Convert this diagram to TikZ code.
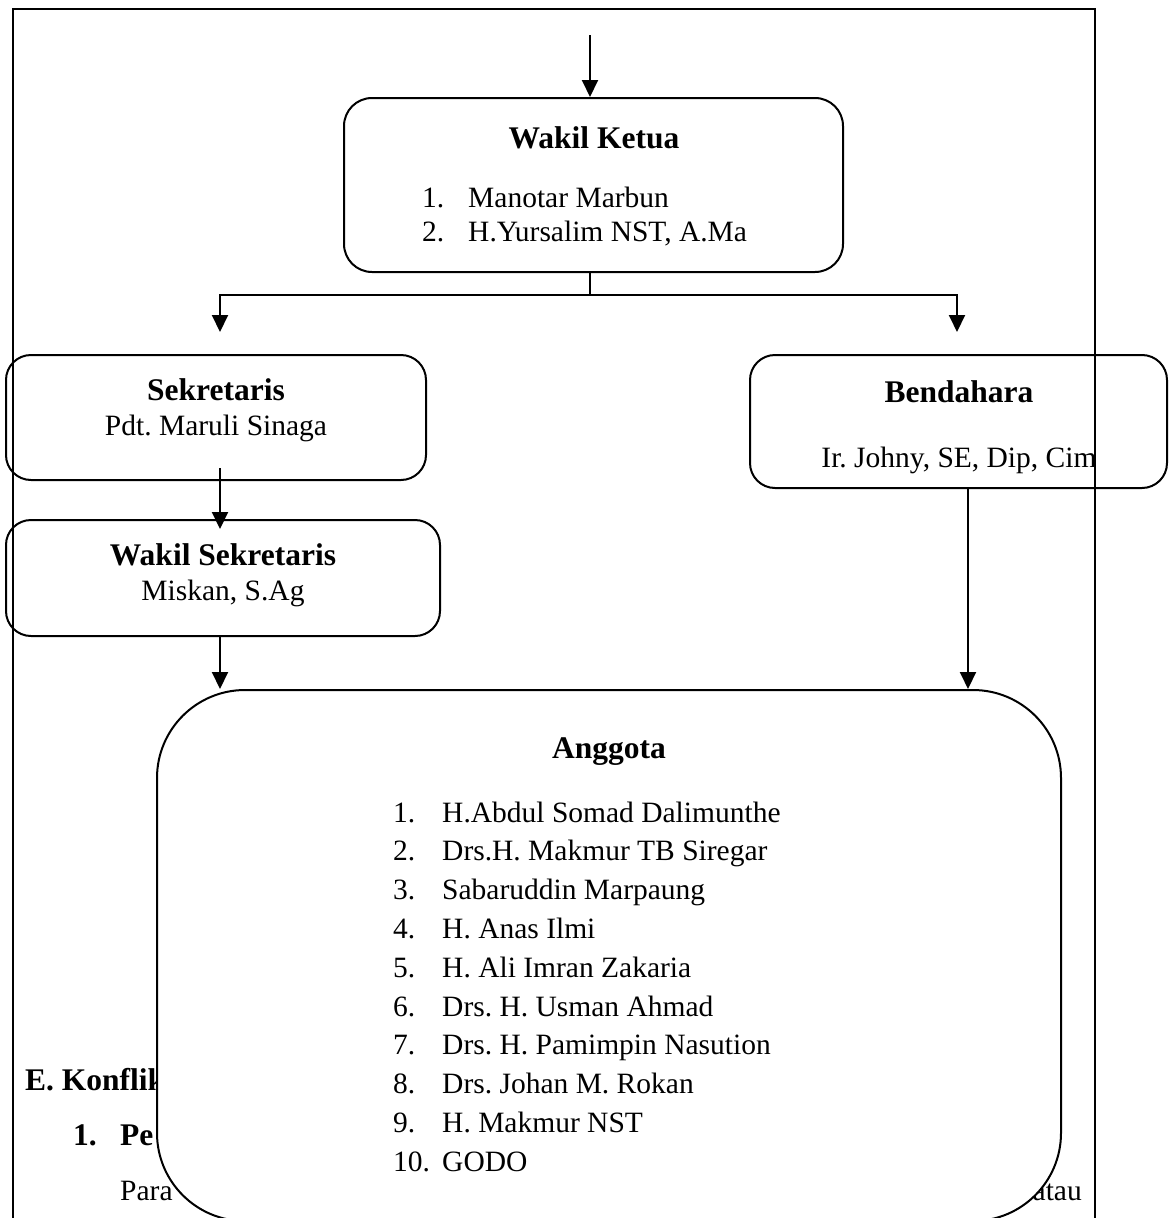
\documentclass[tikz,border=0pt]{standalone}
\usepackage{fontspec}
\setmainfont{Liberation Serif}
\usepackage{tikz}
\usetikzlibrary{positioning, calc, arrows.meta}
\frenchspacing

\newcommand{\isifont}{\fontsize{29.5pt}{35pt}\selectfont}
\newcommand{\judulfont}{\fontsize{31.5pt}{36pt}\selectfont\bfseries}

\begin{document}
\begin{tikzpicture}[x=1pt, y=-1pt,
		kotak/.style={draw, line width=2pt, rounded corners=25pt, inner sep=0pt},
		judul/.style={inner sep=0pt, anchor=base, font=\judulfont},
		isi/.style={inner sep=0pt, anchor=base west, font=\isifont},
		panah/.style={line width=2pt, -{Triangle[width=16pt,length=17pt]}},
		garis/.style={line width=2pt}]
			\useasboundingbox (0,0) rectangle (1170,1218);
			\clip (0,0) rectangle (1170,1218);
			\fill[white] (0,0) rectangle (1170,1218);
			% teks halaman di belakang bagan
			\node[isi, font=\judulfont] (teksE) at (25,1090) {E. Konflik};
			\node[isi, font=\judulfont] (teksno) at (73,1145) {1.};
			\node[isi, font=\judulfont] (teksPe) at (120,1145) {Pe};
			\node[isi] (teksPara) at (120,1200) {Para};
			\node[isi, anchor=base east] (teksatau) at (1082,1200) {atau};
			% kotak-kotak
			\node[kotak, fill=white, rounded corners=88pt, minimum width=904pt, minimum height=531pt] (anggota) at (609,955.5) {};
			\node[kotak, rounded corners=28pt, minimum width=499pt, minimum height=174pt] (ketua) at (593.5,185) {};
			\node[kotak, minimum width=420pt, minimum height=125pt] (sek) at (216,417.5) {};
			\node[kotak, minimum width=434pt, minimum height=116pt] (wsek) at (223,578) {};
			\node[kotak, minimum width=417pt, minimum height=133pt] (bend) at (958.5,421.5) {};
			% tulisan
			\node[judul] (tketua) at (594,148) {Wakil Ketua};
			\node[isi] (k1) at (422,207) {1.};
			\node[isi] (n1) at (468,207) {Manotar Marbun};
			\node[isi] (k2) at (422,241) {2.};
			\node[isi] (n2) at (468,241) {H.Yursalim NST, A.Ma};
			\node[judul] (tsek) at (216,400) {Sekretaris};
			\node[isi, anchor=base] (nsek) at (216,435) {Pdt. Maruli Sinaga};
			\node[judul] (twsek) at (223,565) {Wakil Sekretaris};
			\node[isi, anchor=base] (nwsek) at (223,600) {Miskan, S.Ag};
			\node[judul] (tbend) at (959,402) {Bendahara};
			\node[isi, anchor=base] (nbend) at (959,467) {Ir. Johny, SE, Dip, Cim};
			\node[judul] (tanggota) at (609,758) {Anggota};
			\foreach \nama [count=\i] in {H.Abdul Somad Dalimunthe, Drs.H. Makmur TB Siregar,
				Sabaruddin Marpaung, H. Anas Ilmi, H. Ali Imran Zakaria, Drs. H. Usman Ahmad,
				Drs. H. Pamimpin Nasution, Drs. Johan M. Rokan, H. Makmur NST, GODO} {
				\node[isi] (no\i) at (393,{822+38.8*(\i-1)}) {\i.};
				\node[isi] (ang\i) at (442,{822+38.8*(\i-1)}) {\nama};
			}
			% bingkai halaman
			\draw[line width=2.7pt] (13,1240) -- (13,9) -- (1095,9) -- (1095,1240);
			% panah
			\coordinate (atas) at (590,35);
			\coordinate (cabang) at (590,295);
			\coordinate (sekmasuk) at (220,332);
			\coordinate (bendmasuk) at (957,332);
			\coordinate (sekkeluar) at (220,468);
			\coordinate (wsekmasuk) at (220,529);
			\draw[panah] (atas) -- (atas |- ketua.north);
			\draw[garis] (cabang |- ketua.south) -- (cabang);
			\draw[panah] (cabang) -| (sekmasuk);
			\draw[panah] (cabang) -| (bendmasuk);
			\draw[panah] (sekkeluar) -- (wsekmasuk);
			\draw[panah] (sekkeluar |- wsek.south) -- (sekkeluar |- anggota.north);
			\draw[panah] (968,0 |- bend.south) -- (968,0 |- anggota.north);
			\end{tikzpicture}
\end{document}
